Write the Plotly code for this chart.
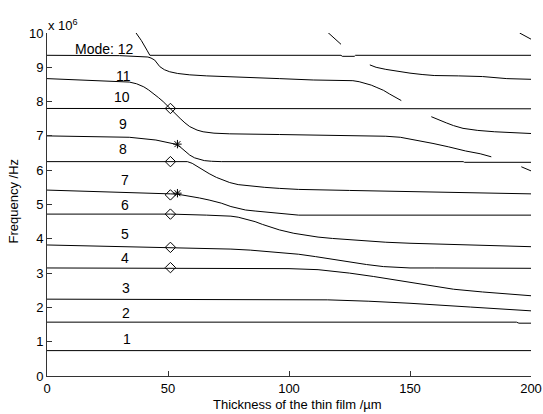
import plotly.graph_objects as go

# Thickness (um) / frequency (x 1e6 Hz) samples
mode1_x = [0, 200]
mode1_y = [0.74, 0.74]
mode2_x = [0, 194, 195, 200]
mode2_y = [1.57, 1.57, 1.54, 1.54]
mode3_x = [0, 76, 77, 116, 133, 150, 175, 200]
mode3_y = [2.24, 2.24, 2.22, 2.22, 2.18, 2.12, 2.01, 1.90]
mode4_x = [0, 51, 100, 112, 118, 125, 135, 146, 158, 168, 180, 190, 200]
mode4_y = [3.15, 3.15, 3.13, 3.10, 3.06, 3.00, 2.90, 2.78, 2.63, 2.53, 2.45, 2.39, 2.34]
mode5_x = [0, 51, 65, 76, 84, 90, 96, 104, 111, 118, 125, 132, 139, 145, 150, 160, 200]
mode5_y = [3.82, 3.75, 3.73, 3.70, 3.67, 3.64, 3.60, 3.55, 3.48, 3.40, 3.32, 3.25, 3.19, 3.16, 3.15, 3.15, 3.14]
mode6_x = [0, 51, 66, 72, 76, 79, 82, 86, 89, 93, 96, 102, 107, 112, 118, 125, 132, 140, 150, 160, 180, 200]
mode6_y = [4.72, 4.72, 4.69, 4.68, 4.66, 4.63, 4.58, 4.50, 4.42, 4.33, 4.26, 4.16, 4.10, 4.05, 4.01, 3.97, 3.93, 3.90, 3.87, 3.85, 3.81, 3.77]
mode7_x = [0, 34, 51, 54, 59, 63, 67, 72, 76, 79, 82, 86, 89, 93, 96, 100, 104, 200]
mode7_y = [5.42, 5.36, 5.31, 5.30, 5.25, 5.19, 5.13, 5.04, 4.94, 4.89, 4.84, 4.81, 4.79, 4.76, 4.74, 4.71, 4.69, 4.69]
mode8_x = [0, 58, 60, 62, 64.5, 67, 70, 73, 75.5, 79, 84, 90, 96, 104, 125, 155, 180, 200]
mode8_y = [6.25, 6.25, 6.20, 6.11, 6.01, 5.90, 5.79, 5.70, 5.64, 5.58, 5.54, 5.50, 5.47, 5.44, 5.41, 5.37, 5.34, 5.31]
mode9_x = [0, 34, 45, 48, 50.7, 53, 55, 57, 59, 61, 63, 65, 68, 72, 172, 172.5, 200]
mode9_y = [7.00, 6.96, 6.88, 6.84, 6.80, 6.76, 6.68, 6.56, 6.44, 6.36, 6.31, 6.28, 6.26, 6.25, 6.25, 6.23, 6.23]
mode10_x = [0, 200]
mode10_y = [7.80, 7.79]
mode11_x = [0, 27, 34, 37, 40, 42, 44, 46, 48, 50.7, 53, 55, 57, 59, 62, 64.5, 69, 75.5, 96, 120, 140, 146, 150, 155, 159.5, 166, 173, 179, 183.6]
mode11_y = [8.67, 8.60, 8.57, 8.52, 8.43, 8.34, 8.24, 8.12, 8.00, 7.80, 7.64, 7.51, 7.38, 7.27, 7.17, 7.12, 7.08, 7.06, 7.04, 7.02, 6.99, 6.96, 6.91, 6.85, 6.78, 6.68, 6.56, 6.48, 6.39]
mode12_x = [0, 30, 41.7, 43, 44.5, 46.6, 48.5, 50.7, 54, 59, 66, 75.5, 96, 110, 120, 126.4, 129, 132, 134, 136, 139, 141.6, 144, 146.4]
mode12_y = [9.35, 9.34, 9.30, 9.27, 9.21, 9.02, 8.93, 8.87, 8.82, 8.78, 8.75, 8.73, 8.67, 8.63, 8.62, 8.61, 8.58, 8.53, 8.48, 8.42, 8.33, 8.22, 8.13, 8.03]
mode13_x = [36.6, 39, 41.3, 42.5, 121.5, 122, 127, 127.5, 200]
mode13_y = [10.02, 9.78, 9.50, 9.35, 9.35, 9.32, 9.32, 9.35, 9.35]
mode13b_x = [133.4, 136, 140, 145, 150, 155, 160, 170, 180, 190, 200]
mode13b_y = [9.07, 9.00, 8.94, 8.88, 8.83, 8.79, 8.76, 8.75, 8.73, 8.67, 8.65]
mode12b_x = [158.8, 162, 165, 168, 171.9, 178, 185, 200]
mode12b_y = [7.56, 7.46, 7.38, 7.30, 7.22, 7.16, 7.12, 7.07]
mode14_x = [116, 119, 121.5]
mode14_y = [10.02, 9.83, 9.67]
mode15_x = [195.3, 200]
mode15_y = [10.0, 9.82]
mode10b_x = [196, 200]
mode10b_y = [6.10, 5.98]

diamond_x = [51, 51, 51, 51, 51, 51]
diamond_y = [7.80, 6.25, 5.28, 4.72, 3.75, 3.16]
star_x = [53.9, 53.9]
star_y = [6.76, 5.33]

label_text = ["Mode: 12", "11", "10", "9", "8", "7", "6", "5", "4", "3", "2", "1"]
label_x = [23.6, 31.8, 31.0, 31.4, 31.4, 32.1, 32.1, 32.1, 32.1, 32.8, 32.5, 33.0]
label_y = [9.52, 8.75, 8.14, 7.35, 6.62, 5.71, 4.99, 4.13, 3.45, 2.56, 1.85, 1.07]

x_ticks = [0, 50, 100, 150, 200]
y_ticks = list(range(0, 11))

curves = [
    (mode1_x, mode1_y), (mode2_x, mode2_y), (mode3_x, mode3_y), (mode4_x, mode4_y),
    (mode5_x, mode5_y), (mode6_x, mode6_y), (mode7_x, mode7_y), (mode8_x, mode8_y),
    (mode9_x, mode9_y), (mode10_x, mode10_y), (mode11_x, mode11_y), (mode12_x, mode12_y),
    (mode13_x, mode13_y), (mode13b_x, mode13b_y), (mode12b_x, mode12b_y),
    (mode14_x, mode14_y), (mode15_x, mode15_y), (mode10b_x, mode10b_y),
]

fig = go.Figure()
for cx, cy in curves:
    fig.add_trace(go.Scatter(x=cx, y=cy, mode="lines",
                             line=dict(color="black", width=1),
                             hoverinfo="skip", showlegend=False))

fig.add_trace(go.Scatter(x=diamond_x, y=diamond_y, mode="markers",
                         marker=dict(symbol="diamond-open", size=8, color="black",
                                     line=dict(width=1, color="black")),
                         showlegend=False))
fig.add_trace(go.Scatter(x=star_x, y=star_y, mode="markers",
                         marker=dict(symbol="asterisk-open", size=7, color="black",
                                     line=dict(width=1, color="black")),
                         showlegend=False))

font = "Liberation Sans, Arial, sans-serif"
for t, lx, ly in zip(label_text, label_x, label_y):
    fig.add_annotation(x=lx, y=ly, text=t, showarrow=False,
                       font=dict(family=font, size=14, color="black"))

fig.add_annotation(xref="paper", yref="paper", x=-0.003, y=1.0, xanchor="left", yanchor="bottom",
                   yshift=-2, text="x 10<sup>6</sup>", showarrow=False,
                   font=dict(family=font, size=13, color="black"))
fig.add_annotation(xref="paper", yref="paper", x=0.5, y=0, xshift=8, yshift=-28,
                   xanchor="center", yanchor="middle",
                   text="Thickness of the thin film /µm", showarrow=False,
                   font=dict(family=font, size=13, color="black"))
fig.add_annotation(xref="paper", yref="paper", x=0, xshift=-34, y=0.5, yshift=3,
                   xanchor="center", yanchor="middle",
                   text="Frequency /Hz", textangle=-90, showarrow=False,
                   font=dict(family=font, size=13, color="black"))

axis_common = dict(showgrid=False, zeroline=False, showline=True, linecolor="#333",
                   linewidth=1, ticks="inside", ticklen=5, tickcolor="#333", automargin=False,
                   tickfont=dict(family=font, size=13, color="black"), mirror=False)

fig.update_layout(
    width=543, height=414,
    margin=dict(l=47, r=12, t=33, b=38),
    paper_bgcolor="white", plot_bgcolor="white",
    xaxis=dict(range=[0, 200], tickvals=x_ticks, **axis_common),
    yaxis=dict(range=[0, 10], tickvals=y_ticks, **axis_common),
)

fig.write_html("out.html", config={"displayModeBar": False},
               post_script="document.body.style.margin='0';")
